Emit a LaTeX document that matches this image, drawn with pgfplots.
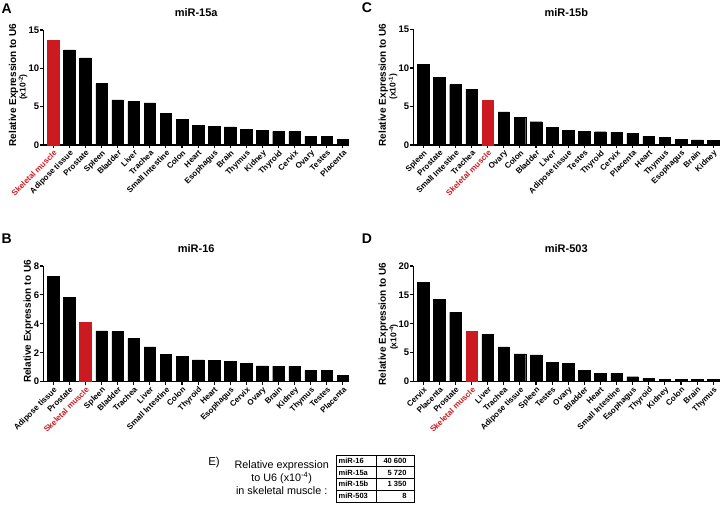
\documentclass[border=0pt]{standalone}
\usepackage{pgfplots}
\pgfplotsset{compat=1.18}
\usepackage{fontspec}
\setmainfont{Liberation Sans}
\definecolor{skred}{RGB}{204,27,32}

\pgfplotsset{
  gp/.style={
    scale only axis,
    axis lines=left,
    axis line style={-, line width=1.1pt, black},
    tick style={line width=1.1pt, black},
    tick align=outside,
    major tick length=3pt,
    xmin=-0.62, xmax=18.38,
    ymin=0,
    xtick={0,...,18},
    /pgf/number format/assume math mode=true,
    yticklabel style={font=\bfseries\fontsize{9.5}{10}\selectfont, inner sep=1pt},
    xticklabel style={font=\bfseries\fontsize{8}{9}\selectfont, rotate=45, anchor=north east, inner sep=1pt},
    title style={font=\bfseries\fontsize{11}{13}\selectfont, at={(axis description cs:0.5,1)}, anchor=center, yshift=11pt},
    ylabel style={font=\bfseries\fontsize{10}{12}\selectfont, anchor=center},
    ybar, bar width=0.72,
    clip=false,
  },
  blk/.style={fill=black, draw=black, bar shift=0pt},
  rd/.style={fill=skred, draw=skred, bar shift=0pt},
}
\tikzset{lab2/.style={rotate=90, font=\bfseries\fontsize{8.5}{10}\selectfont}}

\begin{document}
\begin{tikzpicture}[x=1pt,y=1pt]
\path[use as bounding box] (0,0) rectangle (724,505);

% ---------------- A
\begin{axis}[gp, at={(43.3pt,360pt)}, anchor=south west, width=305.7pt, height=115pt,
  ymax=15, ytick={0,5,10,15}, title={miR-15a},
  ylabel={Relative Expression to U6}, ylabel style={at={(axis description cs:-0.0975,0.522)}},
  xticklabels={\textcolor{skred}{Skeletal muscle},Adipose tissue,Prostate,Spleen,Bladder,Liver,Trachea,Small Intestine,Colon,Heart,Esophagus,Brain,Thymus,Kidney,Thyroid,Cervix,Ovary,Testes,Placenta}]
\addplot[rd] coordinates {(0,13.65)};
\addplot[blk] coordinates {(1,12.4) (2,11.35) (3,8.0) (4,5.9) (5,5.65) (6,5.48) (7,4.13) (8,3.39) (9,2.6) (10,2.39) (11,2.36) (12,2.0) (13,1.91) (14,1.78) (15,1.74) (16,1.17) (17,1.09) (18,0.7)};
\node[lab2] at (axis description cs:-0.066,0.504) {(x10\textsuperscript{-2})};
\end{axis}

% ---------------- C
\begin{axis}[gp, at={(413.3pt,360pt)}, anchor=south west, width=306pt, height=115.5pt,
  ymax=15, ytick={0,5,10,15}, title={miR-15b},
  ylabel={Relative Expression to U6}, ylabel style={at={(axis description cs:-0.098,0.52)}},
  xticklabels={Spleen,Prostate,Small Intestine,Trachea,\textcolor{skred}{Skeletal muscle},Ovary,Colon,Bladder,Liver,Adipose tissue,Testes,Thyroid,Cervix,Placenta,Heart,Thymus,Esophagus,Brain,Kidney}]
\addplot[blk] coordinates {(0,10.5) (1,8.83) (2,7.84) (3,7.24) (5,4.31) (6,3.62) (7,3.02) (8,2.33) (9,1.94) (10,1.77) (11,1.72) (12,1.68) (13,1.51) (14,1.08) (15,1.03) (16,0.69) (17,0.65) (18,0.56)};
\addplot[rd] coordinates {(4,5.82)};
\node[lab2] at (axis description cs:-0.066,0.504) {(x10\textsuperscript{-1})};
\end{axis}

% ---------------- B
\begin{axis}[gp, at={(43.3pt,123.3pt)}, anchor=south west, width=305.7pt, height=115.7pt,
  ymax=8, ytick={0,2,4,6,8}, title={miR-16},
  ylabel={Relative Expression to U6}, ylabel style={at={(axis description cs:-0.049,0.52)}},
  xticklabels={Adipose tissue,Prostate,\textcolor{skred}{Skeletal muscle},Spleen,Bladder,Trachea,Liver,Small Intestine,Colon,Thyroid,Heart,Esophagus,Cervix,Ovary,Brain,Kidney,Thymus,Testes,Placenta}]
\addplot[blk] coordinates {(0,7.28) (1,5.83) (3,3.51) (4,3.46) (5,3.0) (6,2.41) (7,1.9) (8,1.74) (9,1.51) (10,1.49) (11,1.42) (12,1.26) (13,1.1) (14,1.08) (15,1.08) (16,0.78) (17,0.78) (18,0.46)};
\addplot[rd] coordinates {(2,4.09)};
\end{axis}

% ---------------- D
\begin{axis}[gp, at={(413.3pt,123.3pt)}, anchor=south west, width=306pt, height=115.7pt,
  ymax=20, ytick={0,5,10,15,20}, title={miR-503},
  ylabel={Relative Expression to U6}, ylabel style={at={(axis description cs:-0.098,0.5)}},
  xticklabels={Cervix,Placenta,Prostate,\textcolor{skred}{Skeletal muscle},Liver,Trachea,Adipose tissue,Spleen,Testes,Ovary,Bladder,Heart,Small Intestine,Esophagus,Thyroid,Kidney,Colon,Brain,Thymus}]
\addplot[blk] coordinates {(0,17.15) (1,14.2) (2,12.0) (4,8.14) (5,6.02) (6,4.81) (7,4.64) (8,3.38) (9,3.21) (10,1.95) (11,1.43) (12,1.43) (13,0.86) (14,0.57) (15,0.4) (16,0.4) (17,0.4) (18,0.4)};
\addplot[rd] coordinates {(3,8.71)};
\node[lab2] at (axis description cs:-0.064,0.386) {(x10\textsuperscript{-4})};
\end{axis}

% panel letters
\node[font=\bfseries\fontsize{14}{16}\selectfont] at (6.7,496.7) {A};
\node[font=\bfseries\fontsize{14}{16}\selectfont] at (367,497.5) {C};
\node[font=\bfseries\fontsize{14}{16}\selectfont] at (6.7,266.7) {B};
\node[font=\bfseries\fontsize{14}{16}\selectfont] at (367,266) {D};

% E
\node[font=\fontsize{11.5}{13}\selectfont] at (214,42.5) {E)};
\node[font=\fontsize{10.8}{13}\selectfont, align=center] at (281.7,27) {Relative expression\\to U6 (x10\textsuperscript{-4})\\in skeletal muscle :};
\draw[line width=0.6pt] (336.7,2.7) rectangle (414.3,50);
\draw[line width=0.6pt] (376,2.7) -- (376,50);
\foreach \y in {38.3,26.7,14.7} \draw[line width=0.6pt] (336.7,\y) -- (414.3,\y);
\begin{scope}[every node/.style={font=\bfseries\fontsize{7.5}{8}\selectfont, inner sep=0pt}]
\node[anchor=west] at (338.5,44.15) {miR-16};
\node[anchor=west] at (338.5,32.5) {miR-15a};
\node[anchor=west] at (338.5,20.7) {miR-15b};
\node[anchor=west] at (338.5,8.7) {miR-503};
\node[anchor=east] at (406.7,44.15) {40 600};
\node[anchor=east] at (406.7,32.5) {5 720};
\node[anchor=east] at (406.7,20.7) {1 350};
\node[anchor=east] at (406.7,8.7) {8};
\end{scope}
\end{tikzpicture}
\end{document}
